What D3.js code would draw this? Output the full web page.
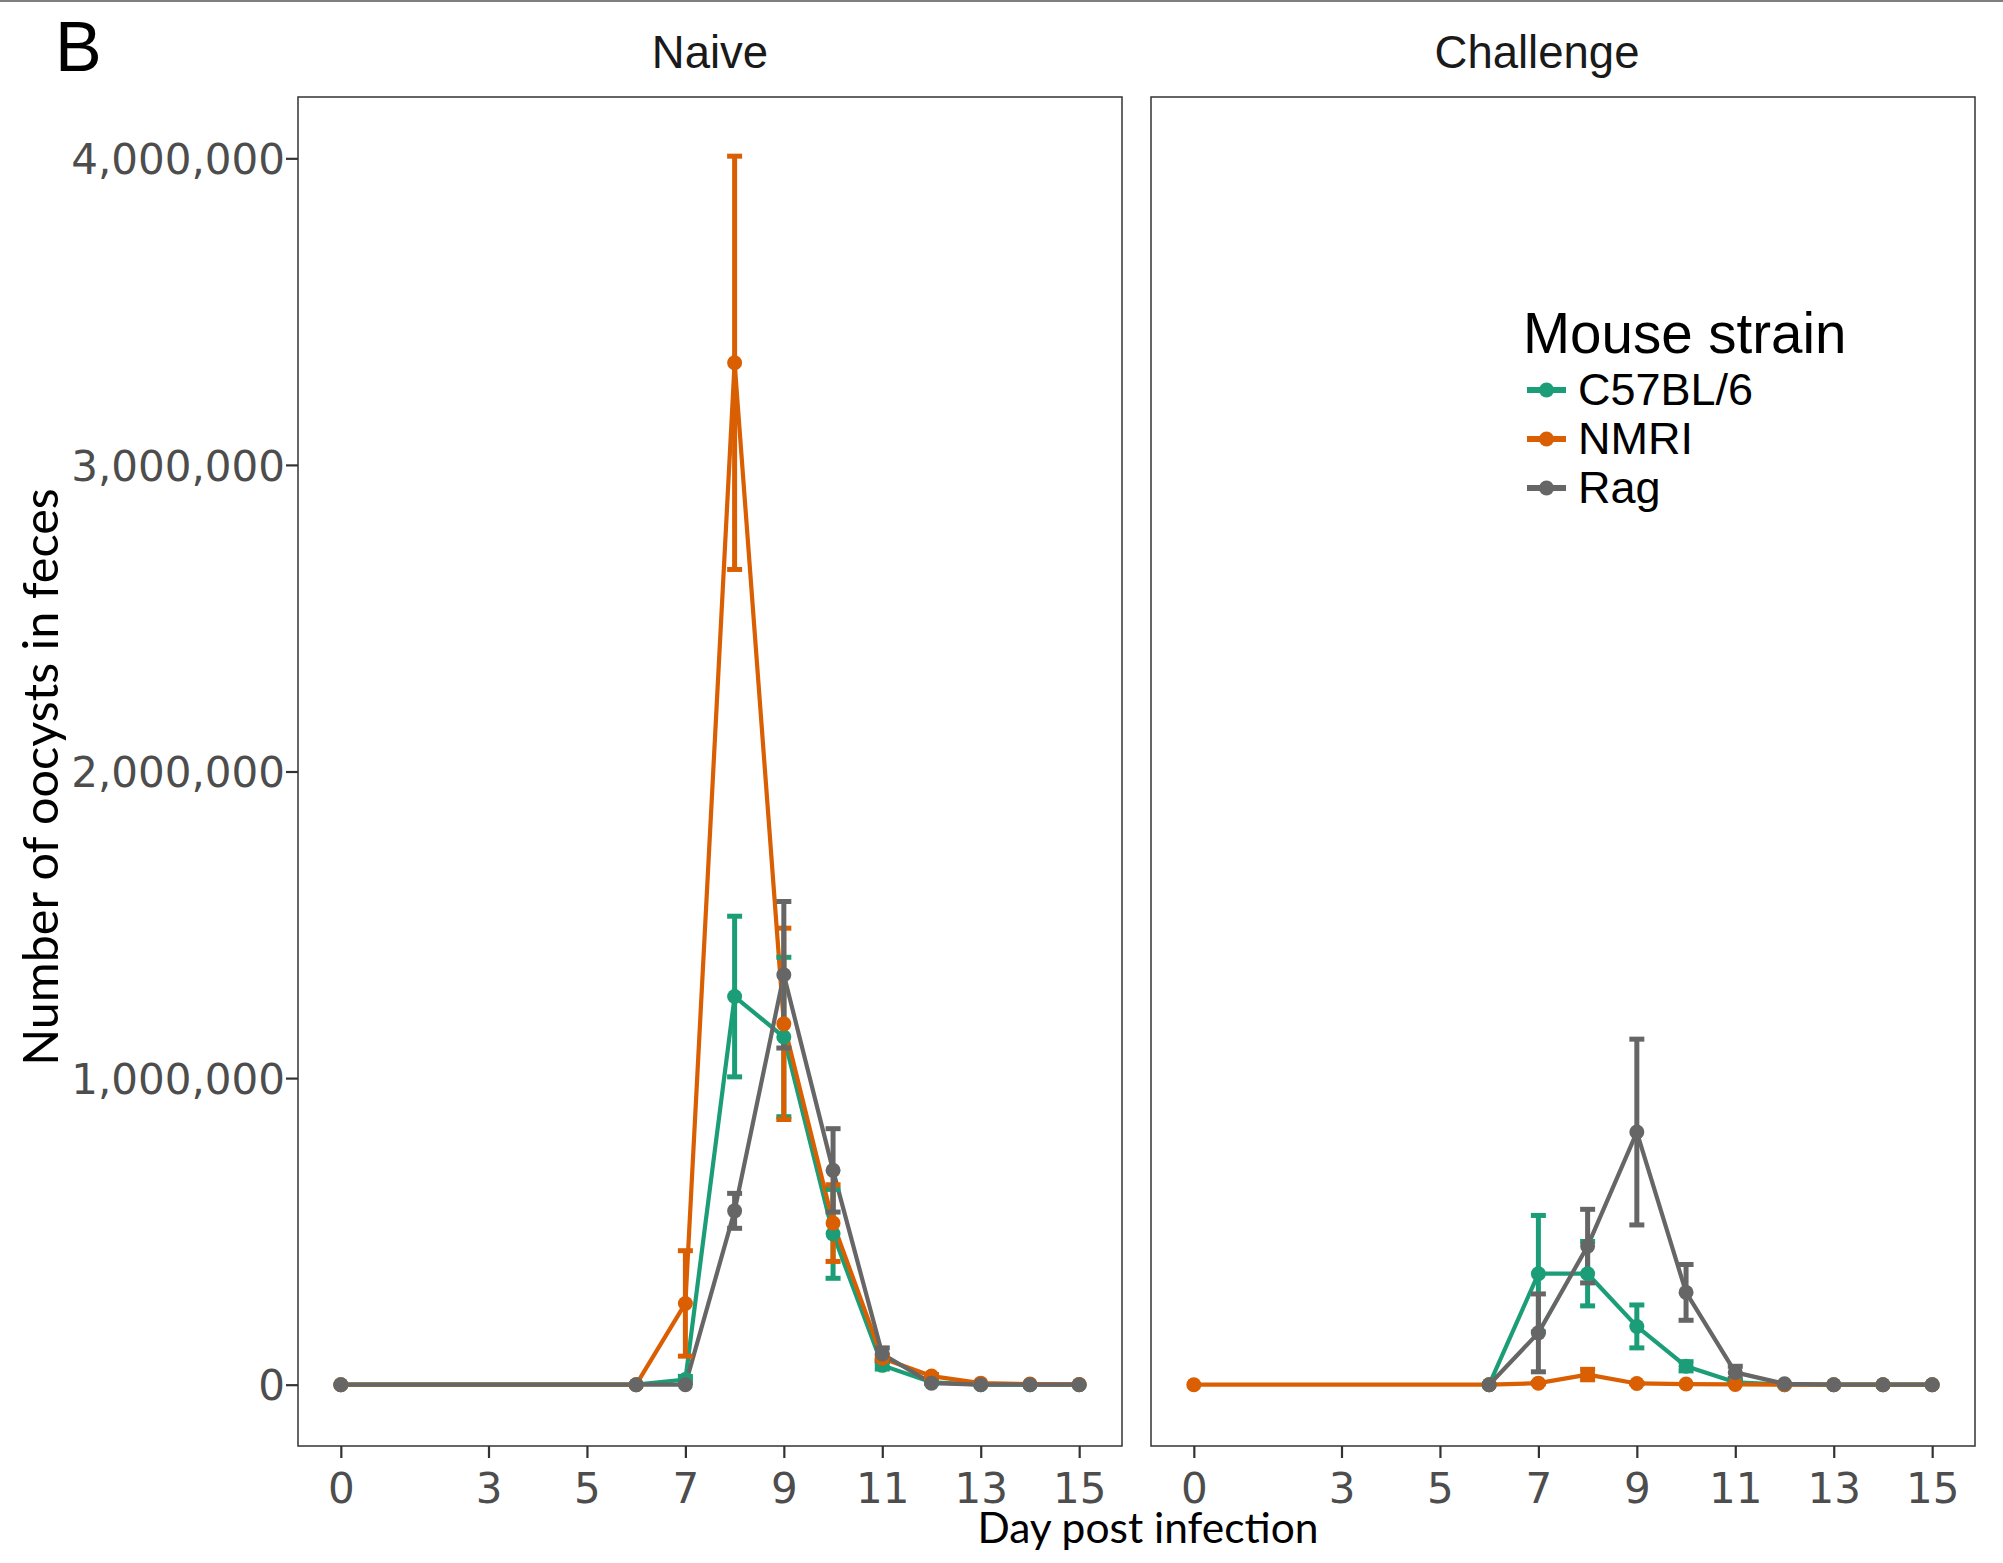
<!DOCTYPE html>
<html>
<head>
<meta charset="utf-8">
<script src="https://cdn.jsdelivr.net/npm/d3@7"></script>
<style>
  html, body { margin: 0; padding: 0; background: #ffffff; }
  svg { display: block; }
</style>
</head>
<body>
<svg id="chart" width="2003" height="1563"></svg>
<script>
// ---------------- data ----------------
const panels = ["Naive", "Challenge"];
const strains = ["C57BL/6", "NMRI", "Rag"];
const strainColors = ["#1b9e77", "#d95f02", "#666666"];
const xTickValues = [0, 3, 5, 7, 9, 11, 13, 15];
const yTickValues = [0, 1000000, 2000000, 3000000, 4000000];

// Naive panel (values in oocysts)
const naiveDays = [0, 6, 7, 8, 9, 10, 11, 12, 13, 14, 15];
const naiveC57Mean = [0, 0, 17000, 1266000, 1134000, 492000, 63000, 8000, 0, 0, 0];
const naiveC57Se   = [0, 0, 10000, 262000, 260000, 145000, 12000, 3000, 0, 0, 0];
const naiveNMRIMean = [0, 0, 265000, 3333000, 1177000, 527000, 86000, 28000, 5000, 2000, 1000];
const naiveNMRISe   = [0, 0, 172000, 674000, 312000, 125000, 10000, 5000, 0, 0, 0];
const naiveRagMean = [0, 0, 0, 567000, 1337000, 699000, 100000, 5000, 0, 0, 0];
const naiveRagSe   = [0, 0, 0, 57000, 239000, 136000, 20000, 0, 0, 0, 0];

// Challenge panel
const challC57Days = [6, 7, 8, 9, 10, 11, 12, 13, 14, 15];
const challC57Mean = [0, 362000, 362000, 190000, 60000, 8000, 0, 0, 0, 0];
const challC57Se   = [0, 190000, 105000, 70000, 15000, 3000, 0, 0, 0, 0];
const challNMRIDays = [0, 6, 7, 8, 9, 10, 11, 12, 13, 14, 15];
const challNMRIMean = [0, 0, 5000, 33000, 4000, 2000, 1000, 0, 0, 0, 0];
const challNMRISe   = [0, 0, 2000, 17000, 1000, 0, 0, 0, 0, 0, 0];
const challRagDays = [6, 7, 8, 9, 10, 11, 12, 13, 14, 15];
const challRagMean = [0, 169000, 452000, 824000, 301000, 40000, 3000, 0, 0, 0];
const challRagSe   = [0, 127000, 120000, 303000, 91000, 20000, 0, 0, 0, 0];

// build series tables from arrays
function mk(days, mean, se) { return days.map((d, i) => ({ day: d, mean: mean[i], se: se[i] })); }
const panelSeries = [
  [mk(naiveDays, naiveC57Mean, naiveC57Se), mk(naiveDays, naiveNMRIMean, naiveNMRISe), mk(naiveDays, naiveRagMean, naiveRagSe)],
  [mk(challC57Days, challC57Mean, challC57Se), mk(challNMRIDays, challNMRIMean, challNMRISe), mk(challRagDays, challRagMean, challRagSe)]
];

// ---------------- layout ----------------
const svg = d3.select("#chart");
const panelLefts = [298, 1151];
const panelWidth = 824;
const panelTop = 97, panelBottom = 1446;
const titleCenters = [710, 1537];

svg.append("rect").attr("x", 0).attr("y", 0).attr("width", 2003).attr("height", 2).attr("fill", "#7f7f7f");

const y = d3.scaleLinear().domain([-200000, 4200000]).range([panelBottom, panelTop]);

svg.append("text").attr("x", 55).attr("y", 71)
  .attr("font-family", "Liberation Sans, Arial, sans-serif").attr("font-size", 70)
  .attr("fill", "#000").text("B");

panels.forEach((p, pi) => {
  const left = panelLefts[pi];
  const x = d3.scaleLinear().domain([-0.87, 15.87]).range([left, left + panelWidth]);
  const g = svg.append("g");

  // strip title
  svg.append("text").attr("x", titleCenters[pi]).attr("y", 68)
    .attr("text-anchor", "middle")
    .attr("font-family", "Liberation Sans, Arial, sans-serif").attr("font-size", 45.5)
    .attr("fill", "#1a1a1a").text(p);

  // x axis
  const xa = svg.append("g").attr("transform", `translate(0,${panelBottom})`)
    .call(d3.axisBottom(x).tickValues(xTickValues).tickSizeInner(12).tickSizeOuter(0).tickFormat(d3.format("d")));
  xa.select(".domain").remove();
  xa.selectAll(".tick line").attr("stroke", "#333333").attr("stroke-width", 2.2);
  xa.selectAll(".tick text").attr("dy", null).attr("y", 57)
    .attr("font-family", "DejaVu Sans, sans-serif").attr("font-size", 42).attr("fill", "#4d4d4d");

  if (pi === 0) {
    const ya = svg.append("g").attr("transform", `translate(${left},0)`)
      .call(d3.axisLeft(y).tickValues(yTickValues).tickSizeInner(12).tickSizeOuter(0).tickPadding(1).tickFormat(d3.format(",")));
    ya.select(".domain").remove();
    ya.selectAll(".tick line").attr("stroke", "#333333").attr("stroke-width", 2.2);
    ya.selectAll(".tick text").attr("dy", "0.36em")
      .attr("font-family", "DejaVu Sans, sans-serif").attr("font-size", 42).attr("fill", "#4d4d4d");
  }

  const line = d3.line().x(d => x(d.day)).y(d => y(d.mean));
  const series = panelSeries[pi];

  // lines
  series.forEach((s, si) => {
    g.append("path").datum(s).attr("d", line)
      .attr("fill", "none").attr("stroke", strainColors[si]).attr("stroke-width", 4.2)
      .attr("stroke-linejoin", "round");
  });
  // error bars
  series.forEach((s, si) => {
    const eb = g.append("g").attr("stroke", strainColors[si]).attr("stroke-width", 5).attr("fill", "none");
    s.filter(d => d.se > 0).forEach(d => {
      const cx = x(d.day), y1 = y(d.mean + d.se), y0 = y(d.mean - d.se);
      eb.append("line").attr("x1", cx).attr("x2", cx).attr("y1", y1).attr("y2", y0);
      eb.append("line").attr("x1", cx - 7.5).attr("x2", cx + 7.5).attr("y1", y1).attr("y2", y1);
      eb.append("line").attr("x1", cx - 7.5).attr("x2", cx + 7.5).attr("y1", y0).attr("y2", y0);
    });
  });
  // points
  series.forEach((s, si) => {
    g.selectAll(null).data(s).enter().append("circle")
      .attr("cx", d => x(d.day)).attr("cy", d => y(d.mean)).attr("r", 7.5)
      .attr("fill", strainColors[si]);
  });

  // panel border
  svg.append("rect").attr("x", left).attr("y", panelTop).attr("width", panelWidth).attr("height", panelBottom - panelTop)
    .attr("fill", "none").attr("stroke", "#333333").attr("stroke-width", 1.5);
});

// axis titles
svg.append("text").attr("x", 1148).attr("y", 1543).attr("text-anchor", "middle")
  .attr("font-family", "Lato, sans-serif").attr("font-size", 42.5).attr("fill", "#000")
  .text("Day post infection");
svg.append("text").attr("transform", "translate(58,777) rotate(-90)").attr("text-anchor", "middle")
  .attr("font-family", "Lato, sans-serif").attr("font-size", 48.5).attr("fill", "#000")
  .text("Number of oocysts in feces");

// legend
svg.append("text").attr("x", 1523).attr("y", 353)
  .attr("font-family", "Liberation Sans, Arial, sans-serif").attr("font-size", 56.5).attr("fill", "#000")
  .text("Mouse strain");
const legendY = [390, 439, 488];
const legendBase = [405, 454, 503];
strains.forEach((s, i) => {
  svg.append("line").attr("x1", 1527).attr("x2", 1566).attr("y1", legendY[i]).attr("y2", legendY[i])
    .attr("stroke", strainColors[i]).attr("stroke-width", 6);
  svg.append("circle").attr("cx", 1546.5).attr("cy", legendY[i]).attr("r", 7.5).attr("fill", strainColors[i]);
  svg.append("text").attr("x", 1578).attr("y", legendBase[i])
    .attr("font-family", "Liberation Sans, Arial, sans-serif").attr("font-size", 45).attr("fill", "#000")
    .text(s);
});
</script>
</body>
</html>
